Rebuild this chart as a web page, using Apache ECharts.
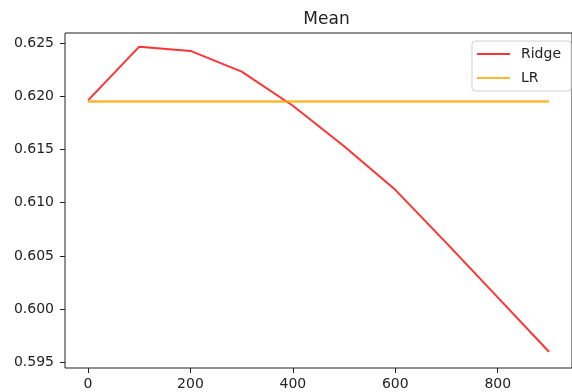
<!DOCTYPE html>
<html>
<head>
<meta charset="utf-8">
<script src="https://cdn.jsdelivr.net/npm/echarts@6/dist/echarts.min.js"></script>
<style>
    html, body { margin: 0; padding: 0; background: #fff; }
    #chart { width: 572px; height: 392px; }
</style>
</head>
<body>
<div id="chart"></div>
<script>
// data
var x_data = [0, 100, 200, 300, 400, 500, 600, 700, 800, 900];
var ridge_data = [0.6196, 0.62465, 0.62425, 0.6223, 0.6191, 0.6153, 0.6112, 0.6062, 0.6011, 0.5960];
var lr_data = [0.6195, 0.6195, 0.6195, 0.6195, 0.6195, 0.6195, 0.6195, 0.6195, 0.6195, 0.6195];
var x_ticks = [0, 200, 400, 600, 800];
var y_ticks = [0.595, 0.600, 0.605, 0.610, 0.615, 0.620, 0.625];

var pairs = function(xs, ys) {
    var out = [];
    for (var i = 0; i < xs.length; i++) {
        out.push([xs[i], ys[i]]);
    }
    return out;
}

var font = 'DejaVu Sans';
var chart = echarts.init(document.getElementById('chart'), null, {renderer: 'canvas'});

var option = {
    animation: false,
    title: {
        text: 'Mean',
        left: 321.5,
        textAlign: 'center',
        top: 6,
        textStyle: {fontFamily: font, fontSize: 17, fontWeight: 'normal', color: '#222'}
    },
    legend: {
        orient: 'vertical',
        right: 1,
        top: 41,
        padding: [6, 10, 6, 5],
        itemGap: 10,
        itemWidth: 33,
        itemHeight: 2,
        icon: 'rect',
        borderColor: '#d0d0d0',
        borderWidth: 1,
        borderRadius: 3,
        backgroundColor: 'rgba(255,255,255,0.8)',
        textStyle: {fontFamily: font, fontSize: 14, color: '#222', lineHeight: 14, padding: [0, 0, 0, 6]},
        data: ['Ridge', 'LR']
    },
    grid: {
        left: 65,
        top: 33,
        width: 513,
        height: 335,
        show: true,
        borderColor: '#222',
        borderWidth: 1,
        backgroundColor: '#fff'
    },
    xAxis: {
        type: 'value',
        min: -45,
        max: 945,
        axisLine: {show: false, onZero: false},
        splitLine: {show: false},
        axisTick: {show: true, length: 5, lineStyle: {color: '#222'}, customValues: x_ticks},
        axisLabel: {margin: 9, fontFamily: font, fontSize: 14, color: '#222', customValues: x_ticks}
    },
    yAxis: {
        type: 'value',
        min: 0.59447,
        max: 0.62593,
        axisLine: {show: false, onZero: false},
        splitLine: {show: false},
        axisTick: {show: true, length: 5, lineStyle: {color: '#222'}, customValues: y_ticks},
        axisLabel: {
            margin: 11, fontFamily: font, fontSize: 14, color: '#222', customValues: y_ticks,
            formatter: function(v) { return v.toFixed(3); }
        }
    },
    series: [
        {
            name: 'Ridge',
            type: 'line',
            data: pairs(x_data, ridge_data),
            showSymbol: false,
            color: 'rgba(255,0,0,0.8)',
            lineStyle: {width: 2, color: 'rgba(255,0,0,0.8)'}
        },
        {
            name: 'LR',
            type: 'line',
            data: pairs(x_data, lr_data),
            showSymbol: false,
            color: 'rgba(255,165,0,0.8)',
            lineStyle: {width: 2.5, color: 'rgba(255,165,0,0.8)'}
        }
    ]
};
chart.setOption(option);
</script>
</body>
</html>
